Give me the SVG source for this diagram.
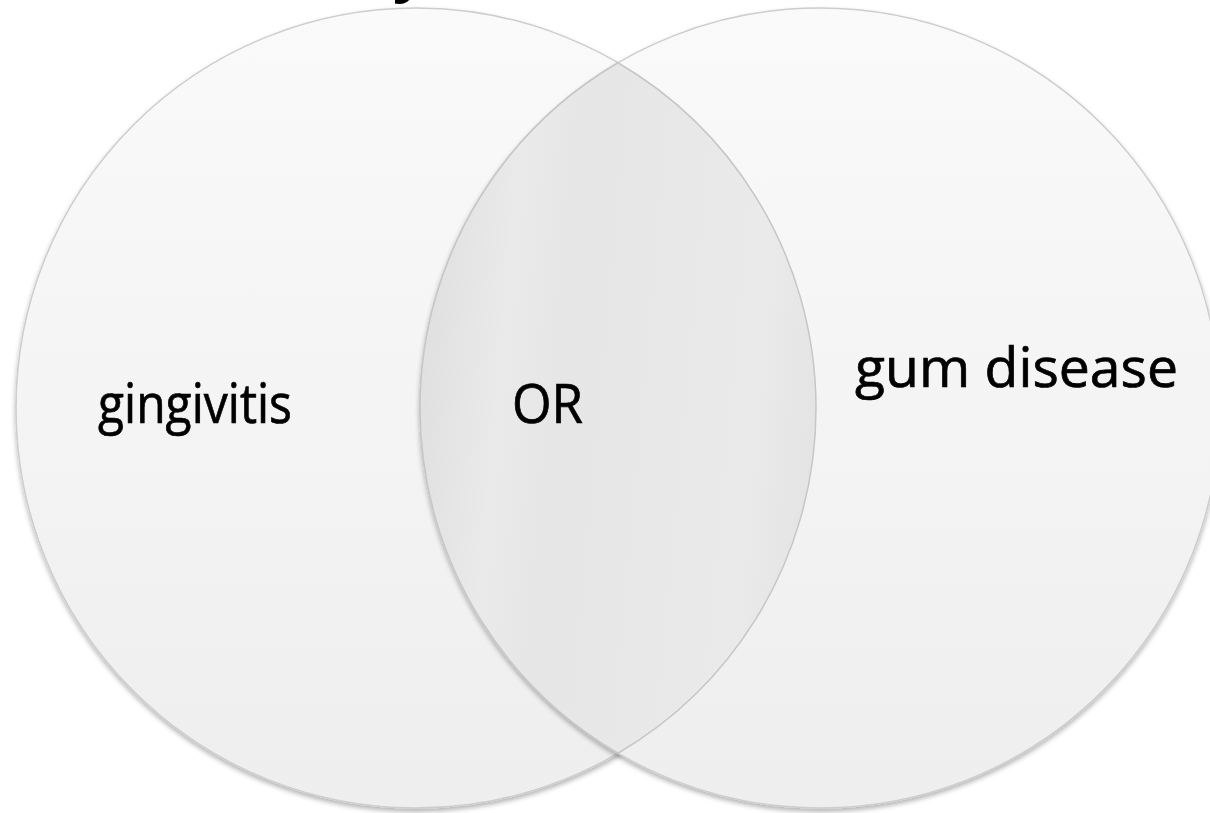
<svg xmlns="http://www.w3.org/2000/svg" width="1210" height="813" viewBox="0 0 1210 813">
<style>
.lbl{font-family:"Open Sans","Liberation Sans",sans-serif;font-size:54px;fill:#000;stroke:#000;stroke-width:0.7}
.circ{fill:url(#cg);stroke:#cdcdcd;stroke-width:1.5}
</style>
<defs>
<linearGradient id="cg" x1="0" y1="0" x2="0" y2="1">
<stop offset="0" stop-color="#fafafa"/>
<stop offset="1" stop-color="#eeeeee"/>
</linearGradient>
<linearGradient id="lg" gradientUnits="userSpaceOnUse" x1="420" y1="390" x2="815" y2="426">
<stop offset="0" stop-color="#e0e0e0"/>
<stop offset="0.1" stop-color="#e5e5e5"/>
<stop offset="0.2" stop-color="#eaeaea"/>
<stop offset="0.35" stop-color="#e6e6e6"/>
<stop offset="0.6" stop-color="#e8e8e8"/>
<stop offset="0.85" stop-color="#eaeaea"/>
<stop offset="1" stop-color="#e4e4e4"/>
</linearGradient>
<filter id="sh" x="-5%" y="-5%" width="110%" height="112%">
<feGaussianBlur in="SourceAlpha" stdDeviation="2.5"/>
<feOffset dy="3" result="b"/>
<feComponentTransfer><feFuncA type="linear" slope="0.3"/></feComponentTransfer>
<feMerge><feMergeNode/><feMergeNode in="SourceGraphic"/></feMerge>
</filter>
</defs>
<rect width="1210" height="813" fill="#ffffff"/>
<text x="393" y="-10" style="font-family:'Open Sans','Liberation Sans',sans-serif;font-size:58px;font-weight:bold">y</text>
<g id="left-circle" filter="url(#sh)">
<circle class="circ" cx="416" cy="408" r="400"/>
</g>
<g id="right-circle" filter="url(#sh)">
<circle class="circ" cx="820" cy="408" r="400"/>
</g>
<g id="overlap">
<path d="M618,62.75 A400,400 0 0,0 618,753.25 A400,400 0 0,0 618,62.75 Z" fill="url(#lg)" stroke="#c6c6c6" stroke-width="1.5"/>
</g>
<g id="labels">
<text class="lbl" x="98" y="423" textLength="194" lengthAdjust="spacingAndGlyphs">gingivitis</text>
<text class="lbl" x="512" y="423" textLength="71" lengthAdjust="spacingAndGlyphs">OR</text>
<text class="lbl" x="855" y="387" textLength="323" lengthAdjust="spacingAndGlyphs">gum disease</text>
</g>
</svg>
